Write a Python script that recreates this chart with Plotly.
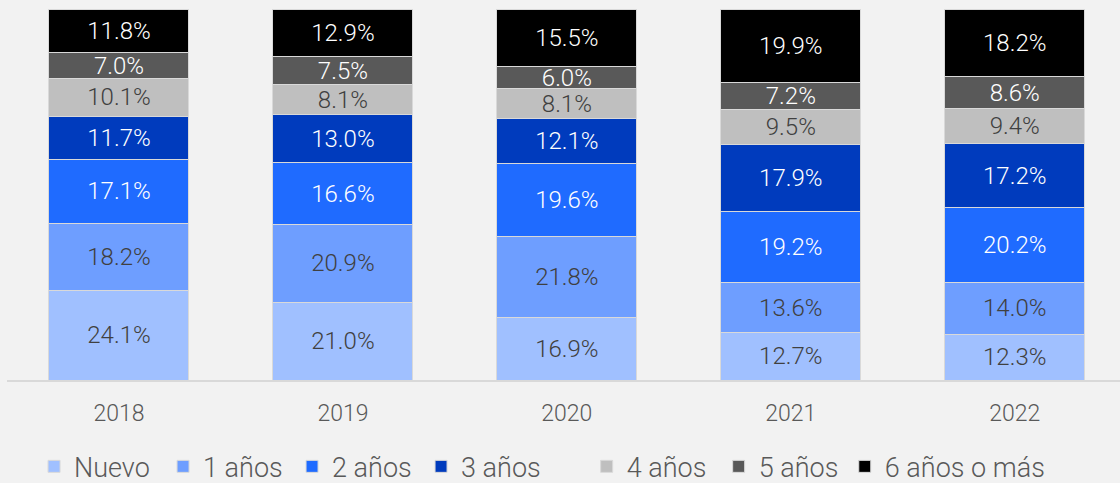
import plotly.graph_objects as go

years = ["2018", "2019", "2020", "2021", "2022"]
series_names = ["Nuevo", "1 años", "2 años", "3 años", "4 años", "5 años", "6 años o más"]
nuevo = [24.1, 21.0, 16.9, 12.7, 12.3]
anios_1 = [18.2, 20.9, 21.8, 13.6, 14.0]
anios_2 = [17.1, 16.6, 19.6, 19.2, 20.2]
anios_3 = [11.7, 13.0, 12.1, 17.9, 17.2]
anios_4 = [10.1, 8.1, 8.1, 9.5, 9.4]
anios_5 = [7.0, 7.5, 6.0, 7.2, 8.6]
anios_6 = [11.8, 12.9, 15.5, 19.9, 18.2]

values = [nuevo, anios_1, anios_2, anios_3, anios_4, anios_5, anios_6]
colors = ["#a0c0ff", "#6e9eff", "#1f6bff", "#003bbd", "#bfbfbf", "#595959", "#000000"]
text_colors = ["#404040", "#404040", "#ffffff", "#ffffff", "#404040", "#ffffff", "#ffffff"]
legend_groups = ["legend", "legend", "legend", "legend", "legend2", "legend2", "legend3"]

FONT = "Roboto"
fig = go.Figure()
for name, vals, c, tc, lg in zip(series_names, values, colors, text_colors, legend_groups):
    fig.add_trace(go.Bar(
        x=years, y=vals, name=name,
        marker=dict(color=c, line=dict(color="#d9d9d9", width=1)),
        width=0.625,
        texttemplate="%{y:.1f}%",
        textposition="inside",
        insidetextanchor="middle",
        textangle=0,
        constraintext="none",
        textfont=dict(color=tc, size=24, family=FONT, weight=300),
        hoverinfo="skip",
        legend=lg,
    ))

legend_common = dict(
    orientation="h",
    yref="paper", y=-0.234, yanchor="middle",
    xanchor="left",
    font=dict(size=27, color="#595959", family=FONT, weight=300),
    bgcolor="rgba(0,0,0,0)",
    traceorder="normal",
)

fig.update_layout(
    barmode="stack",
    width=1120, height=483,
    margin=dict(l=7, r=0, t=9, b=103, autoexpand=False),
    paper_bgcolor="#f2f2f2",
    plot_bgcolor="#f2f2f2",
    font=dict(family=FONT, color="#595959"),
    uniformtext=dict(minsize=24, mode="show"),
    bargap=0.375,
    xaxis=dict(
        type="category",
        range=[-0.5, 4.47],
        showline=True, linecolor="#d9d9d9", linewidth=2,
        showgrid=False, ticks="",
        tickfont=dict(size=23, color="#595959", family=FONT, weight=300),
        ticklabelstandoff=11,
    ),
    yaxis=dict(range=[0, 100], visible=False, showgrid=False),
    showlegend=True,
    legend=dict(legend_common, x=0.0243, entrywidthmode="pixels", entrywidth=84),
    legend2=dict(legend_common, x=0.5208, entrywidthmode="pixels", entrywidth=87),
    legend3=dict(legend_common, x=0.7527),
)

fig.write_html(
    "out.html",
    config={"displayModeBar": False},
    post_script="document.body.style.margin='0';document.body.style.padding='0';",
)
